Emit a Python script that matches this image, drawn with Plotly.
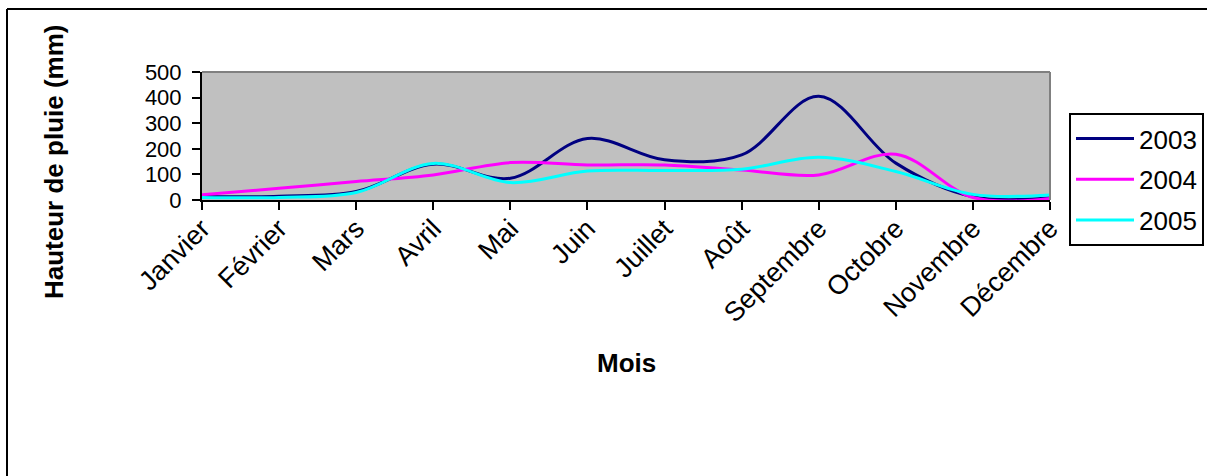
import plotly.graph_objects as go

# Monthly rainfall (mm) per year
mois = ["Janvier", "Février", "Mars", "Avril", "Mai", "Juin", "Juillet",
        "Août", "Septembre", "Octobre", "Novembre", "Décembre"]
pluie_2003 = [13, 15, 33, 140, 85, 240, 157, 176, 405, 144, 13, 9]
pluie_2004 = [20, 46, 72, 98, 146, 137, 137, 117, 98, 179, 10, 6]
pluie_2005 = [10, 10, 29, 143, 68, 113, 115, 120, 167, 111, 22, 20]
annees = ["2003", "2004", "2005"]
couleurs = ["#000080", "#FF00FF", "#00FFFF"]
y_ticks = [0, 100, 200, 300, 400, 500]

W, H = 1207, 476
L, R, T, B = 202, 157, 72, 276
PW, PH = W - L - R, H - T - B


def px_x(x):
    return (x - L) / PW


def px_y(y):
    return (H - B - y) / PH


FONT = "Liberation Sans, Arial, sans-serif"
FS = 26

fig = go.Figure()
for annee, serie, couleur in zip(annees, [pluie_2003, pluie_2004, pluie_2005], couleurs):
    fig.add_trace(go.Scatter(
        x=mois, y=serie, name=annee, mode="lines", legendgroup=annee,
        line=dict(color=couleur, width=3, shape="spline", smoothing=1.0),
        cliponaxis=False,
    ))

fig.update_layout(
    width=W, height=H,
    margin=dict(l=L, r=R, t=T, b=B, pad=0, autoexpand=False),
    paper_bgcolor="white",
    plot_bgcolor="#C0C0C0",
    font=dict(family=FONT, size=FS, color="black"),
    showlegend=True,
    legend=dict(
        x=px_x(1069), y=px_y(113), xanchor="left", yanchor="top",
        bordercolor="black", borderwidth=2, bgcolor="white",
        font=dict(size=FS), itemwidth=58, tracegroupgap=4,
        maxheight=400,
    ),
    xaxis=dict(
        type="category", range=[0, len(mois) - 1],
        showgrid=False, zeroline=False,
        showline=True, linecolor="black", linewidth=2,
        ticks="outside", ticklen=8, tickwidth=2, tickcolor="black",
        tickangle=-45, tickfont=dict(size=27), ticklabelstandoff=-8,
    ),
    yaxis=dict(
        range=[0, 500], tickvals=y_ticks,
        showgrid=False, zeroline=False,
        showline=True, linecolor="black", linewidth=2,
        ticks="outside", ticklen=8, tickwidth=2, tickcolor="black",
        tickfont=dict(size=22), ticklabelstandoff=6,
    ),
    shapes=[
        # grey frame on the top and right of the plot area
        dict(type="line", xref="paper", yref="paper", x0=0, x1=1, y0=1, y1=1,
             line=dict(color="#808080", width=2)),
        dict(type="line", xref="paper", yref="paper", x0=1, x1=1, y0=0, y1=1,
             line=dict(color="#808080", width=2)),
        # outer chart border
        dict(type="line", xref="paper", yref="paper", x0=px_x(7), x1=px_x(1220),
             y0=px_y(9), y1=px_y(9), line=dict(color="black", width=2)),
        dict(type="line", xref="paper", yref="paper", x0=px_x(7), x1=px_x(7),
             y0=px_y(9), y1=px_y(490), line=dict(color="black", width=2)),
    ],
    annotations=[
        dict(text="<b>Mois</b>", xref="paper", yref="paper",
             x=0.5, y=px_y(363), xanchor="center", yanchor="middle",
             showarrow=False, font=dict(size=FS)),
        dict(text="<b>Hauteur de pluie (mm)</b>", xref="paper", yref="paper",
             x=px_x(54), y=px_y(162), xanchor="center", yanchor="middle",
             showarrow=False, textangle=-90, font=dict(size=FS)),
    ],
)

fig.write_html("out.html")
